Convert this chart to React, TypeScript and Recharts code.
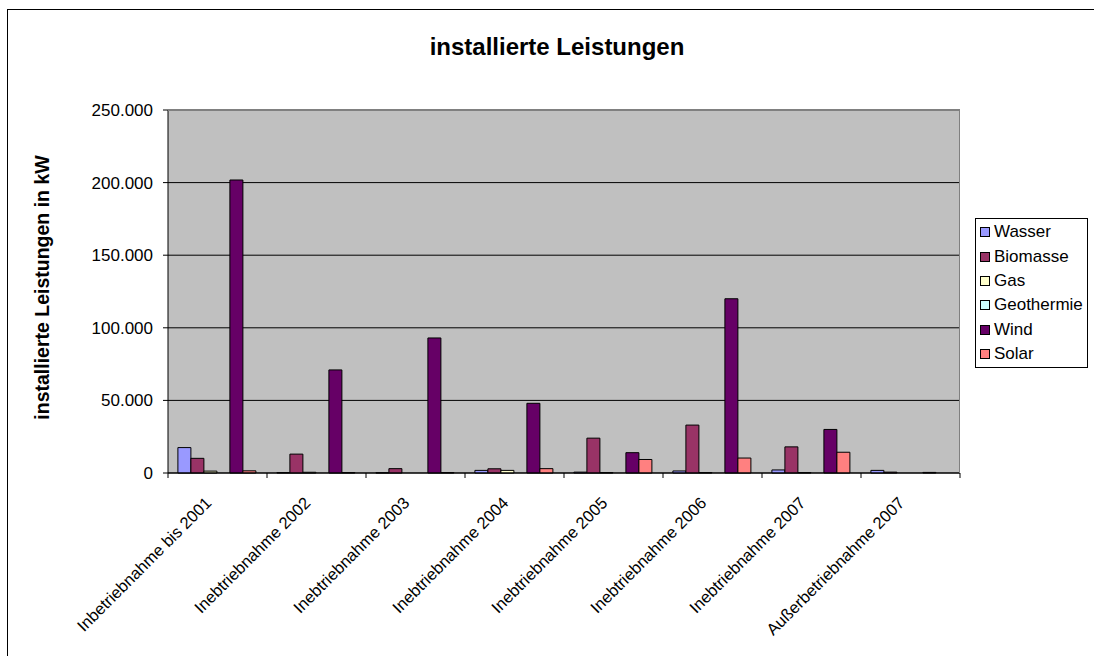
import { BarChart, Bar, XAxis, YAxis, CartesianGrid, Legend, Label } from "recharts";

const categories = [
  "Inbetriebnahme bis 2001",
  "Inebtriebnahme 2002",
  "Inebtriebnahme 2003",
  "Inebtriebnahme 2004",
  "Inebtriebnahme 2005",
  "Inebtriebnahme 2006",
  "Inebtriebnahme 2007",
  "Außerbetriebnahme 2007",
];

const wasser = [17500, 300, 200, 1800, 600, 1400, 2100, 1800];
const biomasse = [10100, 13000, 3000, 2900, 24000, 33000, 18000, 600];
const gas = [1300, 500, 0, 1800, 300, 300, 300, 0];
const geothermie = [0, 0, 0, 0, 0, 0, 0, 0];
const wind = [201800, 71000, 93000, 48000, 14000, 120000, 30000, 400];
const solar = [1500, 300, 300, 3000, 9300, 10300, 14300, 0];

const yTicks = [0, 50000, 100000, 150000, 200000, 250000];

const series = [
  { key: "Wasser", values: wasser, color: "#9999FF" },
  { key: "Biomasse", values: biomasse, color: "#993366" },
  { key: "Gas", values: gas, color: "#FFFFCC" },
  { key: "Geothermie", values: geothermie, color: "#CCFFFF" },
  { key: "Wind", values: wind, color: "#660066" },
  { key: "Solar", values: solar, color: "#FF8080" },
];

const data = categories.map((name, i) => {
  const row: Record<string, string | number> = { name };
  series.forEach((s) => (row[s.key] = s.values[i]));
  return row;
});

const FONT = "'Liberation Sans', Arial, sans-serif";
const W = 1094;
const H = 656;
const PLOT_LEFT = 168;
const PLOT_RIGHT = 960;
const PLOT_TOP = 110;
const PLOT_BOTTOM = 473;
const BAND = (PLOT_RIGHT - PLOT_LEFT) / categories.length;

const fmt = (v: number) => String(v).replace(/\B(?=(\d{3})+(?!\d))/g, ".");

function CategoryTick(props: any) {
  const { x, y, payload, index } = props;
  const tx = x - 5;
  const ty = y + 31;
  return (
    <g>
      <line x1={x - BAND / 2} x2={x - BAND / 2} y1={y} y2={y + 5} stroke="#000" />
      {index === categories.length - 1 && (
        <line x1={x + BAND / 2} x2={x + BAND / 2} y1={y} y2={y + 5} stroke="#000" />
      )}
      <text
        x={tx}
        y={ty}
        transform={`rotate(-45 ${tx} ${ty})`}
        textAnchor="end"
        fontSize={16.5}
        fontFamily={FONT}
        fill="#000"
      >
        {payload.value}
      </text>
    </g>
  );
}

function LegendBox() {
  return (
    <div
      style={{
        border: "1px solid #000",
        background: "#fff",
        padding: "1px 4px 1px 4px",
        fontFamily: FONT,
        fontSize: 17,
        width: 103,
      }}
    >
      {series.map((s) => (
        <div key={s.key} style={{ display: "flex", alignItems: "center", height: 24.4 }}>
          <span
            style={{
              display: "inline-block",
              width: 8,
              height: 8,
              border: "1px solid #000",
              background: s.color,
              marginRight: 4,
            }}
          />
          <span>{s.key}</span>
        </div>
      ))}
    </div>
  );
}

export default function App() {
  return (
    <div
      style={{
        position: "absolute",
        left: 0,
        top: 0,
        width: W,
        height: H,
        overflow: "hidden",
        background: "#fff",
        fontFamily: FONT,
      }}
    >
      <div
        style={{
          position: "absolute",
          left: 7,
          top: 9,
          width: 1100,
          height: 700,
          border: "1px solid #000",
        }}
      />
      <div
        style={{
          position: "absolute",
          left: 0,
          width: 1114,
          top: 33,
          textAlign: "center",
          fontWeight: "bold",
          fontSize: 24,
          lineHeight: "28px",
        }}
      >
        installierte Leistungen
      </div>
      <BarChart
        width={W}
        height={H}
        data={data}
        margin={{ top: PLOT_TOP, right: W - PLOT_RIGHT, left: 0, bottom: 0 }}
        barCategoryGap="10%"
        barGap={0}
        style={{ position: "absolute", left: 0, top: 0 }}
      >
        <CartesianGrid vertical={false} stroke="#000" fill="#C0C0C0" />
        <XAxis
          dataKey="name"
          height={H - PLOT_BOTTOM}
          axisLine={{ stroke: "#000" }}
          tickLine={false}
          tickSize={0}
          tickMargin={0}
          interval={0}
          tick={<CategoryTick />}
        />
        <YAxis
          width={PLOT_LEFT}
          domain={[0, 250000]}
          ticks={yTicks}
          tickFormatter={fmt}
          axisLine={{ stroke: "#000" }}
          tickLine={{ stroke: "#000" }}
          tickSize={5}
          tickMargin={10}
          tick={{ fill: "#000", fontSize: 17, fontFamily: FONT }}
        >
          <Label
            content={(p: any) => {
              const vb = p.viewBox || {};
              const cy = (vb.y ?? PLOT_TOP) + (vb.height ?? PLOT_BOTTOM - PLOT_TOP) / 2 - 4;
              return (
                <text
                  x={49}
                  y={cy}
                  transform={`rotate(-90 49 ${cy})`}
                  textAnchor="middle"
                  fontWeight="bold"
                  fontSize={19.5}
                  fontFamily={FONT}
                  fill="#000"
                >
                  installierte Leistungen in kW
                </text>
              );
            }}
          />
        </YAxis>
        <Legend
          layout="vertical"
          align="center"
          verticalAlign="middle"
          content={() => <LegendBox />}
          wrapperStyle={{ left: 975, top: 218, width: 113 }}
        />
        {series.map((s) => (
          <Bar
            key={s.key}
            dataKey={s.key}
            fill={s.color}
            stroke="#000"
            strokeWidth={1}
            isAnimationActive={false}
          />
        ))}
      </BarChart>
      <div
        style={{
          position: "absolute",
          left: PLOT_LEFT,
          top: PLOT_TOP,
          width: PLOT_RIGHT - PLOT_LEFT,
          height: PLOT_BOTTOM - PLOT_TOP,
          borderTop: "1px solid #808080",
          borderRight: "1px solid #808080",
          boxSizing: "border-box",
          pointerEvents: "none",
        }}
      />
    </div>
  );
}
